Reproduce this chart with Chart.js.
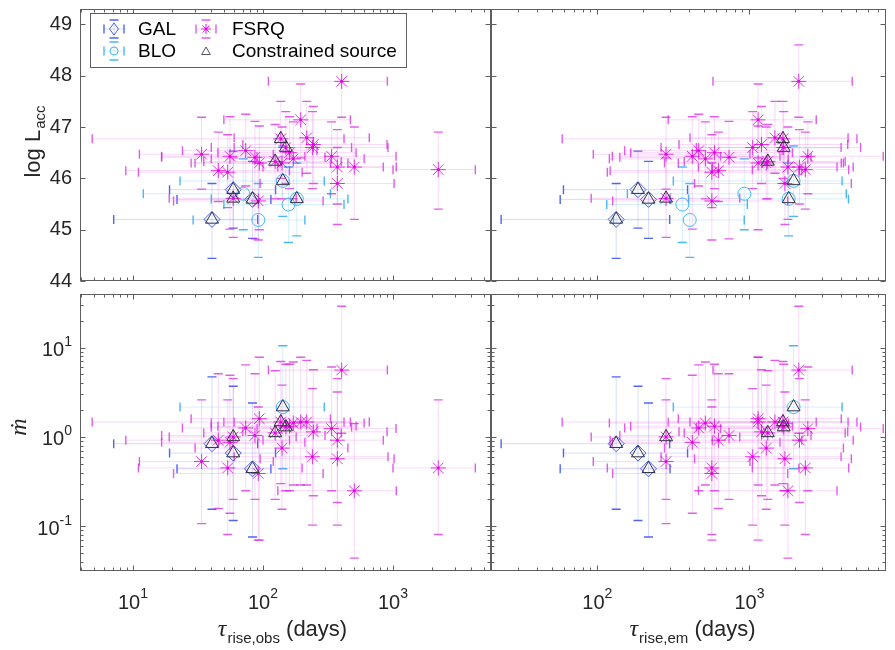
<!DOCTYPE html>
<html>
<head>
<meta charset="utf-8">
<script src="https://cdn.jsdelivr.net/npm/chart.js@4.4.1/dist/chart.umd.min.js"></script>
<style>
    body { margin: 0; background: #fff; }
    #wrap { position: relative; width: 895px; height: 650px; }
    #wrap canvas { position: absolute; left: 0; top: 0; }
</style>
</head>
<body>
<div id="wrap">
    <canvas id="panelBL" width="895" height="650"></canvas>
    <canvas id="panelBR" width="895" height="650"></canvas>
    <canvas id="panelTR" width="895" height="650"></canvas>
    <canvas id="panelTL" width="895" height="650"></canvas>
</div>
<script>
// Values. Triples are [value, lower end, upper end] of the error bar.
// tau_em only keeps the centre; its error bar keeps the same ratio as tau_obs.

// GAL
const galTauObs = [[40.5, 7.1, 91], [59, 19.1, 125], [83, 21.8, 115]];
const galTauEm = [133, 185, 217];
const galLogL = [[45.2, 44.44, 45.9], [45.78, 45.03, 46.53], [45.59, 44.83, 46.33]];
const galMdot = [[0.84, 0.155, 4.7], [0.66, 0.116, 3.7], [0.44, 0.076, 2.4]];
const galConstrained = [true, true, true];

// BLO
const bloTauObs = [[92, 29, 210], [157, 50, 420], [70.5, 12, 330], [142, 23, 296], [182, 40, 450]];
const bloTauEm = [405, 362, 925, 1950, 1810];
const bloLogL = [[45.19, 44.46, 45.9], [45.49, 44.75, 46.22], [45.7, 45.0, 46.38], [45.95, 45.26, 46.63], [45.6, 44.88, 46.3]];
const bloMdot = [null, null, null, [2.16, 0.44, 10.5], null];
const bloConstrained = [false, false, false, true, true];

// FSRQ
const fsrqTauObs = [
    [33.7, 11.2, 120], [45.3, 8.8, 160], [53.5, 11, 200], [55.7, 16.6, 210], [73.6, 24, 260],
    [86.7, 16.6, 300], [93.7, 28, 330], [92, 20.5, 290], [59, 19, 180], [403, 110, 905],
    [195, 50, 470], [217, 60, 657], [244, 70, 900], [240, 60, 915], [337, 90, 1055],
    [373, 100, 842], [504, 130, 1060], [373, 95, 1020], [2230, 1000, 4300], [171, 40, 600],
    [160, 45, 520], [140, 30, 450], [124, 35, 400], [137, 4.85, 420], [150, 40, 480]
];
const fsrqTauEm = [
    283, 625, 566, 421, 464,
    734, 1140, 566, 283, 2110,
    1140, 1470, 1200, 1050, 2420,
    2130, 1790, 1710, 2330, 513,
    589, 1290, 1320, 1660, 1680
];
const fsrqLogL = [
    [46.47, 45.79, 47.19], [46.15, 45.55, 46.9], [46.12, 45.43, 46.85], [46.43, 45.01, 47.2], [46.54, 45.85, 47.25],
    [46.41, 44.82, 47.11], [46.3, 45.0, 47.02], [45.56, 44.8, 46.3], [45.61, 44.85, 46.4], [47.89, 47.19, 48.6],
    [47.14, 46.4, 47.84], [46.79, 46.1, 47.5], [46.66, 45.9, 47.4], [46.6, 45.8, 47.3], [46.43, 45.7, 47.1],
    [46.22, 45.5, 46.95], [46.22, 45.2, 47.0], [45.9, 45.1, 46.6], [46.17, 45.4, 46.9], [46.38, 45.6, 47.1],
    [46.5, 45.8, 47.2], [46.3, 45.6, 47.0], [46.33, 45.6, 47.05], [46.77, 46.0, 47.5], [46.6, 45.9, 47.3]
];
const fsrqMdot = [
    [0.53, 0.107, 2.6], [0.92, 0.158, 5.1], [0.45, 0.081, 2.6], [0.87, 0.14, 4.9], [1.26, 0.25, 6.4],
    [1.04, 0.2, 5.1], [1.6, 0.07, 7.8], [0.39, 0.07, 2.16], [1.0, 0.2, 4.5], [5.6, 1.1, 29],
    [1.47, 0.29, 7.8], [1.47, 0.29, 7.2], [1.14, 0.22, 5.66], [0.6, 0.103, 3.47], [1.24, 0.25, 6.06],
    [0.92, 0.185, 4.5], [0.25, 0.044, 1.41], [0.57, 0.103, 3.18], [0.45, 0.081, 2.6], [1.43, 0.29, 6.9],
    [1.32, 0.25, 6.5], [0.75, 0.155, 3.8], [1.11, 0.2, 5.5], [1.47, 0.3, 7.0], [1.29, 0.25, 6.5]
];
const fsrqConstrained = [
    false, false, false, false, false,
    false, false, false, true, false,
    false, false, false, false, false,
    false, false, false, false, false,
    false, false, true, true, true
];

// axes
const tauObsRange = [3.91, 5675];
const tauEmRange = [20, 7900];
const logLRange = [44, 49.3];
const mdotRange = [0.0316, 39.8];
const logLTicks = [44, 45, 46, 47, 48, 49];
const mdotTicks = [0.1, 1, 10];
const mdotTickExp = ['-1', '0', '1'];
const tauObsTicks = [10, 100, 1000];
const tauObsTickExp = ['1', '2', '3'];
const tauEmTicks = [100, 1000];
const tauEmTickExp = ['2', '3'];

const SANS = '"Liberation Sans", Arial, Helvetica, sans-serif';
const SERIF = '"Liberation Serif", "DejaVu Serif", serif';
const TEXT = '#262626';
const AXIS = '#5e5e5e';

const colors = {
    gal: { mark: 'rgba(55,80,235,0.9)', line: 'rgba(70,95,235,0.22)', cap: 'rgba(50,75,235,0.85)' },
    blo: { mark: 'rgba(60,180,245,0.95)', line: 'rgba(60,180,245,0.22)', cap: 'rgba(45,170,245,0.85)' },
    fsrq: { mark: 'rgba(225,0,225,0.8)', line: 'rgba(225,60,225,0.2)', cap: 'rgba(215,40,225,0.75)' }
};

function buildPoints(tauObs, tauEm, yVals, useEm) {
    const pts = [];
    tauObs.forEach((t, i) => {
        const yv = yVals[i];
        if (!yv) return;
        const k = useEm ? tauEm[i] / t[0] : 1;
        pts.push({ x: t[0] * k, y: yv[0], xMin: t[1] * k, xMax: t[2] * k, yMin: yv[1], yMax: yv[2], i: i });
    });
    return pts;
}

function logTicks(min, max) {
    const out = [];
    for (let e = Math.floor(Math.log10(min)); e <= Math.ceil(Math.log10(max)); e++) {
        for (let k = 1; k <= 9; k++) {
            const v = k * Math.pow(10, e);
            if (v >= min * 0.999 && v <= max * 1.001) out.push({ v: v, major: k === 1 });
        }
    }
    return out;
}

// error bars, drawn under the markers
const errorBars = {
    id: 'errorBars',
    beforeDatasetsDraw(chart) {
        const { ctx, chartArea: a } = chart;
        const xs = chart.scales.x, ys = chart.scales.y;
        ctx.save();
        ctx.beginPath();
        ctx.rect(a.left, a.top, a.right - a.left, a.bottom - a.top);
        ctx.clip();
        chart.data.datasets.slice().reverse().forEach(ds => {
            if (!ds.err) return;
            ds.data.forEach(p => {
                const px = xs.getPixelForValue(p.x), py = ys.getPixelForValue(p.y);
                const x0 = xs.getPixelForValue(p.xMin), x1 = xs.getPixelForValue(p.xMax);
                const y0 = ys.getPixelForValue(p.yMin), y1 = ys.getPixelForValue(p.yMax);
                ctx.strokeStyle = ds.err.line;
                ctx.lineWidth = 1;
                ctx.beginPath();
                ctx.moveTo(x0, py); ctx.lineTo(x1, py);
                ctx.moveTo(px, y0); ctx.lineTo(px, y1);
                ctx.stroke();
                ctx.strokeStyle = ds.err.cap;
                ctx.lineWidth = 1.4;
                ctx.beginPath();
                ctx.moveTo(x0, py - 4.5); ctx.lineTo(x0, py + 4.5);
                ctx.moveTo(x1, py - 4.5); ctx.lineTo(x1, py + 4.5);
                ctx.moveTo(px - 4.5, y0); ctx.lineTo(px + 4.5, y0);
                ctx.moveTo(px - 4.5, y1); ctx.lineTo(px + 4.5, y1);
                ctx.stroke();
            });
        });
        ctx.restore();
    }
};

function drawPow(ctx, exp, x, y, align, size) {
    // "10" with a raised exponent; y is the centre of the digits
    ctx.font = size + 'px ' + SANS;
    const wBase = ctx.measureText('10').width;
    const small = Math.round(size * 0.7);
    ctx.font = small + 'px ' + SANS;
    const wExp = ctx.measureText(exp).width;
    const total = wBase + wExp;
    let left = align === 'right' ? x - total : x - total / 2;
    ctx.textBaseline = 'middle';
    ctx.textAlign = 'left';
    ctx.font = size + 'px ' + SANS;
    ctx.fillText('10', left, y);
    ctx.font = small + 'px ' + SANS;
    ctx.fillText(exp, left + wBase, y - size * 0.42);
}

function drawMarker(ctx, style, x, y, r, color) {
    ctx.strokeStyle = color;
    ctx.lineWidth = 1;
    ctx.beginPath();
    if (style === 'diamond') {
        ctx.moveTo(x, y - r); ctx.lineTo(x + r * 0.75, y); ctx.lineTo(x, y + r); ctx.lineTo(x - r * 0.75, y); ctx.closePath();
    } else if (style === 'circle') {
        ctx.arc(x, y, r, 0, Math.PI * 2);
    } else if (style === 'star') {
        for (let k = 0; k < 4; k++) {
            const ang = k * Math.PI / 4;
            ctx.moveTo(x - Math.cos(ang) * r, y - Math.sin(ang) * r);
            ctx.lineTo(x + Math.cos(ang) * r, y + Math.sin(ang) * r);
        }
    } else if (style === 'triangle') {
        ctx.moveTo(x, y - r); ctx.lineTo(x + r * 0.87, y + r * 0.5); ctx.lineTo(x - r * 0.87, y + r * 0.5); ctx.closePath();
    }
    ctx.stroke();
}

function legendGlyph(ctx, x, y, c, style, r) {
    ctx.strokeStyle = c.line;
    ctx.lineWidth = 1;
    ctx.beginPath();
    ctx.moveTo(x - 10, y); ctx.lineTo(x + 10, y);
    ctx.moveTo(x, y - 9); ctx.lineTo(x, y + 9);
    ctx.stroke();
    ctx.strokeStyle = c.cap;
    ctx.lineWidth = 1.4;
    ctx.beginPath();
    ctx.moveTo(x - 10, y - 4.5); ctx.lineTo(x - 10, y + 4.5);
    ctx.moveTo(x + 10, y - 4.5); ctx.lineTo(x + 10, y + 4.5);
    ctx.moveTo(x - 4.5, y - 9); ctx.lineTo(x + 4.5, y - 9);
    ctx.moveTo(x - 4.5, y + 9); ctx.lineTo(x + 4.5, y + 9);
    ctx.stroke();
    drawMarker(ctx, style, x, y, r, c.mark);
}

// box, inward ticks on all four sides, tick labels, titles, legend
const frame = {
    id: 'frame',
    afterDraw(chart, args, opts) {
        const { ctx, chartArea: a } = chart;
        const xs = chart.scales.x, ys = chart.scales.y;
        const L = Math.round(a.left) + 0.5, R = Math.round(a.right) - 0.5;
        const T = Math.round(a.top) + 0.5, B = Math.round(a.bottom) - 0.5;
        ctx.save();
        ctx.strokeStyle = AXIS;
        ctx.lineWidth = 1;
        ctx.strokeRect(L, T, R - L, B - T);
        ctx.beginPath();
        logTicks(xs.min, xs.max).forEach(t => {
            const px = Math.round(xs.getPixelForValue(t.v)) + 0.5;
            const len = t.major ? 5 : 3;
            ctx.moveTo(px, B); ctx.lineTo(px, B - len);
            ctx.moveTo(px, T); ctx.lineTo(px, T + len);
        });
        const yTicks = opts.yLog ? logTicks(ys.min, ys.max) : logLTicks.map(v => ({ v: v, major: true }));
        yTicks.forEach(t => {
            const py = Math.round(ys.getPixelForValue(t.v)) + 0.5;
            const len = t.major ? 5 : 3;
            ctx.moveTo(L, py); ctx.lineTo(L + len, py);
            ctx.moveTo(R, py); ctx.lineTo(R - len, py);
        });
        ctx.stroke();

        ctx.fillStyle = TEXT;
        if (opts.yLabels) {
            if (opts.yLog) {
                mdotTicks.forEach((v, k) => drawPow(ctx, mdotTickExp[k], 72, ys.getPixelForValue(v) + 3, 'right', 20));
            } else {
                ctx.font = '20px ' + SANS;
                ctx.textAlign = 'right';
                ctx.textBaseline = 'middle';
                logLTicks.forEach(v => ctx.fillText(String(v), 72, ys.getPixelForValue(v)));
            }
        }
        if (opts.xLabels) {
            opts.xTicks.forEach((v, k) => drawPow(ctx, opts.xExp[k], xs.getPixelForValue(v), 603, 'center', 20));
            // axis title: tau_{rise,obs} (days)
            const sub = opts.xSub;
            ctx.font = 'italic 24px ' + SERIF;
            const wTau = ctx.measureText('\u03c4').width;
            ctx.font = '15px ' + SANS;
            const wSub = ctx.measureText(sub).width;
            ctx.font = '22px ' + SANS;
            const wDays = ctx.measureText(' (days)').width;
            let x0 = opts.titleX - (wTau + wSub + wDays) / 2;
            ctx.textAlign = 'left';
            ctx.textBaseline = 'alphabetic';
            ctx.font = 'italic 24px ' + SERIF;
            ctx.fillText('\u03c4', x0, 636);
            ctx.font = '15px ' + SANS;
            ctx.fillText(sub, x0 + wTau + 1, 643);
            ctx.font = '22px ' + SANS;
            ctx.fillText(' (days)', x0 + wTau + wSub + 1, 636);
        }
        if (opts.yTitle === 'logL') {
            ctx.translate(40, 142);
            ctx.rotate(-Math.PI / 2);
            ctx.font = '22px ' + SANS;
            const w1 = ctx.measureText('log L').width;
            ctx.font = '15px ' + SANS;
            const w2 = ctx.measureText('acc').width;
            const s = -(w1 + w2) / 2;
            ctx.textAlign = 'left';
            ctx.textBaseline = 'alphabetic';
            ctx.font = '22px ' + SANS;
            ctx.fillText('log L', s, 0);
            ctx.font = '15px ' + SANS;
            ctx.fillText('acc', s + w1 + 1, 5);
            ctx.setTransform(1, 0, 0, 1, 0, 0);
        } else if (opts.yTitle === 'mdot') {
            ctx.translate(26, 427);
            ctx.rotate(-Math.PI / 2);
            ctx.font = 'italic 24px ' + SERIF;
            ctx.textAlign = 'center';
            ctx.textBaseline = 'alphabetic';
            ctx.fillText('\u1e41', 0, 0);
            ctx.setTransform(1, 0, 0, 1, 0, 0);
        }
        if (opts.legend) {
            ctx.fillStyle = '#fff';
            ctx.fillRect(90.5, 13.5, 316, 54);
            ctx.strokeStyle = AXIS;
            ctx.lineWidth = 1;
            ctx.strokeRect(90.5, 13.5, 316, 54);
            legendGlyph(ctx, 114, 29, colors.gal, 'diamond', 6);
            legendGlyph(ctx, 114, 51, colors.blo, 'circle', 4);
            legendGlyph(ctx, 206, 29, colors.fsrq, 'star', 5);
            ctx.fillStyle = colors.fsrq.mark;
            ctx.beginPath(); ctx.arc(206, 29, 1.5, 0, Math.PI * 2); ctx.fill();
            drawMarker(ctx, 'triangle', 206, 52, 5, '#555566');
            ctx.fillStyle = '#000';
            ctx.font = '19px ' + SANS;
            ctx.textAlign = 'left';
            ctx.textBaseline = 'middle';
            ctx.fillText('GAL', 138, 30);
            ctx.fillText('BLO', 138, 52);
            ctx.fillText('FSRQ', 232, 30);
            ctx.fillText('Constrained source', 232, 52);
        }
        ctx.restore();
    }
};

function constrainedPoints(useEm, key) {
    const groups = [
        [galTauObs, galTauEm, key === 'L' ? galLogL : galMdot, galConstrained],
        [bloTauObs, bloTauEm, key === 'L' ? bloLogL : bloMdot, bloConstrained],
        [fsrqTauObs, fsrqTauEm, key === 'L' ? fsrqLogL : fsrqMdot, fsrqConstrained]
    ];
    let pts = [];
    groups.forEach(g => {
        pts = pts.concat(buildPoints(g[0], g[1], g[2], useEm).filter(p => g[3][p.i]));
    });
    return pts;
}

function makePanel(id, area, useEm, key, frameOpts) {
    const gal = buildPoints(galTauObs, galTauEm, key === 'L' ? galLogL : galMdot, useEm);
    const blo = buildPoints(bloTauObs, bloTauEm, key === 'L' ? bloLogL : bloMdot, useEm);
    const fsrq = buildPoints(fsrqTauObs, fsrqTauEm, key === 'L' ? fsrqLogL : fsrqMdot, useEm);
    const xRange = useEm ? tauEmRange : tauObsRange;
    const yRange = key === 'L' ? logLRange : mdotRange;

    new Chart(document.getElementById(id), {
        type: 'scatter',
        data: {
            datasets: [
                { data: constrainedPoints(useEm, key), pointStyle: 'triangle', pointRadius: 7.5,
                  borderColor: '#303040', borderWidth: 1, backgroundColor: 'rgba(0,0,0,0)' },
                { data: fsrq, pointStyle: 'circle', pointRadius: 1.5, borderWidth: 0,
                  backgroundColor: colors.fsrq.mark },
                { data: fsrq, pointStyle: 'star', pointRadius: 7.5, borderColor: colors.fsrq.mark,
                  borderWidth: 1, backgroundColor: 'rgba(0,0,0,0)', err: colors.fsrq },
                { data: blo, pointStyle: 'circle', pointRadius: 6.5, borderColor: colors.blo.mark,
                  borderWidth: 1, backgroundColor: 'rgba(0,0,0,0)', err: colors.blo },
                { data: gal, pointStyle: 'rectRot', pointRadius: 8, borderColor: colors.gal.mark,
                  borderWidth: 1, backgroundColor: 'rgba(0,0,0,0)', err: colors.gal }
            ]
        },
        options: {
            responsive: false,
            animation: false,
            events: [],
            layout: { padding: { left: area[0], top: area[1], right: 895 - area[2], bottom: 650 - area[3] } },
            scales: {
                x: { type: 'logarithmic', display: false, min: xRange[0], max: xRange[1] },
                y: { type: key === 'L' ? 'linear' : 'logarithmic', display: false, min: yRange[0], max: yRange[1] }
            },
            plugins: {
                legend: { display: false },
                tooltip: { enabled: false },
                frame: frameOpts
            }
        },
        plugins: [errorBars, frame]
    });
}

makePanel('panelTL', [80, 4, 491, 281], false, 'L', { yLabels: true, yTitle: 'logL', legend: true });
makePanel('panelTR', [491, 4, 893, 281], true, 'L', {});
makePanel('panelBL', [80, 294, 491, 571], false, 'm', {
    yLog: true, yLabels: true, yTitle: 'mdot', xLabels: true,
    xTicks: tauObsTicks, xExp: tauObsTickExp, xSub: 'rise,obs', titleX: 282
});
makePanel('panelBR', [491, 294, 893, 571], true, 'm', {
    yLog: true, xLabels: true,
    xTicks: tauEmTicks, xExp: tauEmTickExp, xSub: 'rise,em', titleX: 692
});
</script>
</body>
</html>
